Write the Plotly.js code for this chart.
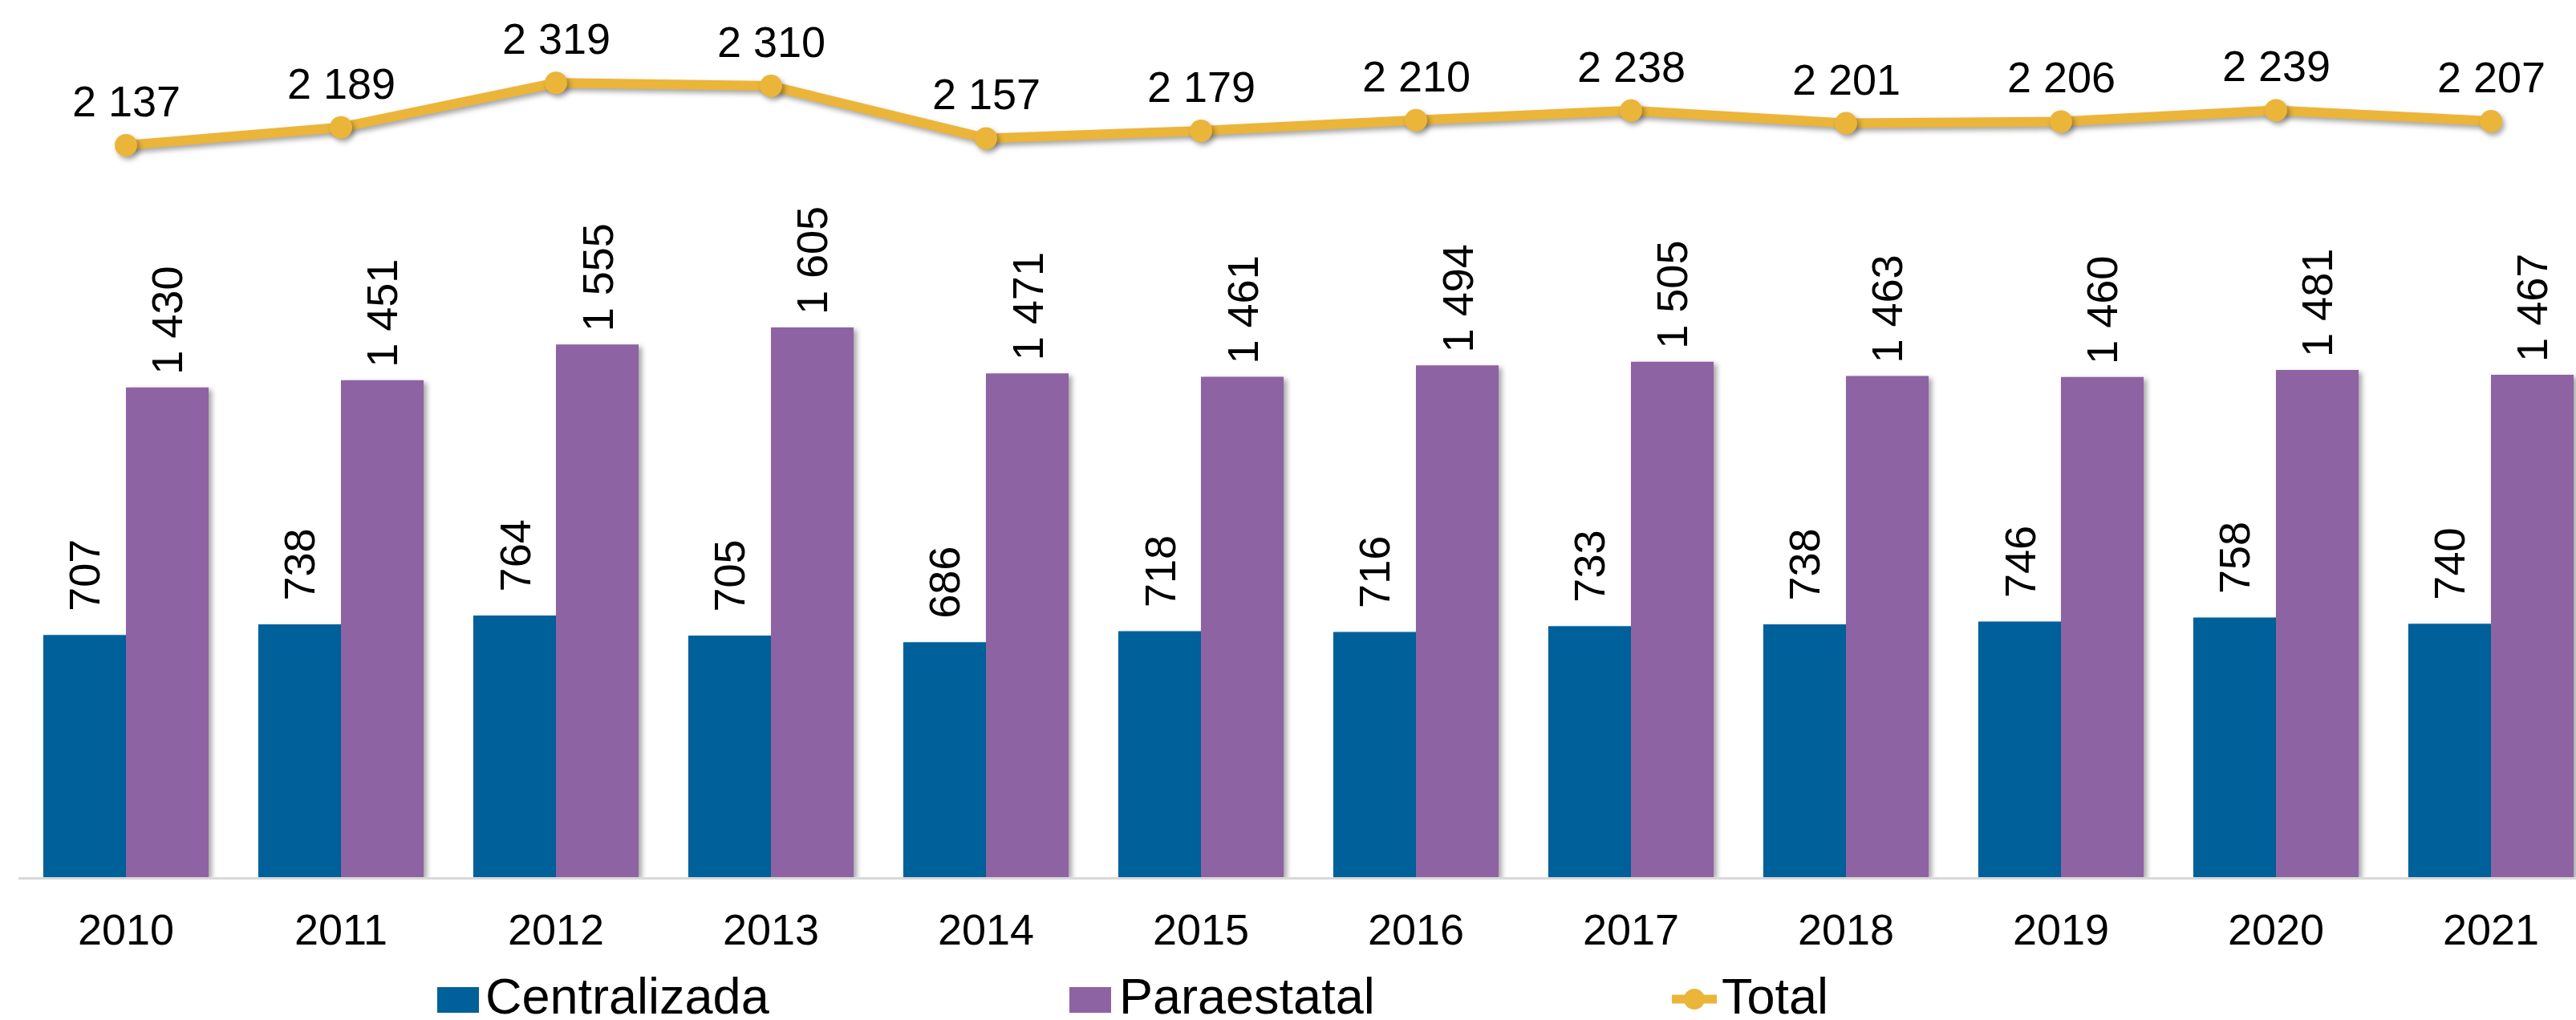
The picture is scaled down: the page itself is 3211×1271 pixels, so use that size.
<!DOCTYPE html>
<html>
<head>
<meta charset="utf-8">
<script src="https://cdn.plot.ly/plotly-3.0.1.min.js"></script>
<style>
  html, body { margin: 0; padding: 0; background: #ffffff; }
  #chart { width: 3211px; height: 1271px; }
  .barlayer .point path { filter: drop-shadow(4px 3px 3px rgba(0,0,0,0.35)); }
  .scatterlayer .js-line, .scatterlayer .point { filter: drop-shadow(3px 4px 3px rgba(0,0,0,0.35)); }
</style>
</head>
<body>
<div id="chart"></div>
<script>
// ---- data ----
const years = ['2010','2011','2012','2013','2014','2015','2016','2017','2018','2019','2020','2021'];
const centralizada = [707, 738, 764, 705, 686, 718, 716, 733, 738, 746, 758, 740];
const paraestatal  = [1430, 1451, 1555, 1605, 1471, 1461, 1494, 1505, 1463, 1460, 1481, 1467];
const total        = [2137, 2189, 2319, 2310, 2157, 2179, 2210, 2238, 2201, 2206, 2239, 2207];
const seriesNames  = ['Centralizada', 'Paraestatal', 'Total'];

// ---- style ----
const COL_CENT = '#00619A';
const COL_PARA = '#8E63A3';
const COL_TOT  = '#EBB53A';
const FONT = 'Liberation Sans, Arial, sans-serif';

const W = 3211, H = 1271;
const ML = 23, MR = 0, MT = 26, MB = 178;
const PW = W - ML - MR, PH = H - MT - MB;
const CAT_PX = 268;
const XMAX = -0.5 + PW / CAT_PX;
const BARGAP = 0.231;
const HALF_BAR = (1 - BARGAP) * CAT_PX / 4;

function fmt(v) {
  return String(v).replace(/\B(?=(\d{3})+(?!\d))/g, ' ');
}
function px2paperX(px) { return (px - ML) / PW; }
function px2paperY(py) { return (H - MB - py) / PH; }

const traces = [
  {
    type: 'bar', name: seriesNames[0], x: years, y: centralizada,
    marker: { color: COL_CENT, line: { width: 0 } },
    showlegend: false, hoverinfo: 'x+y'
  },
  {
    type: 'bar', name: seriesNames[1], x: years, y: paraestatal,
    marker: { color: COL_PARA, line: { width: 0 } },
    showlegend: false, hoverinfo: 'x+y'
  },
  {
    type: 'scatter', mode: 'lines+markers', name: seriesNames[2], x: years, y: total,
    line: { color: COL_TOT, width: 12 },
    marker: { color: COL_TOT, size: 28 },
    showlegend: false, hoverinfo: 'x+y', cliponaxis: false
  }
];

// data labels: category axis annotations take the category's serial index
const annotations = [];
years.forEach((yr, i) => {
  annotations.push({
    x: i, y: centralizada[i], xref: 'x', yref: 'y', text: fmt(centralizada[i]),
    showarrow: false, textangle: -90, xanchor: 'center', yanchor: 'bottom',
    xshift: -HALF_BAR, yshift: 28, font: { family: FONT, size: 54, color: '#000' }
  });
  annotations.push({
    x: i, y: paraestatal[i], xref: 'x', yref: 'y', text: fmt(paraestatal[i]),
    showarrow: false, textangle: -90, xanchor: 'center', yanchor: 'bottom',
    xshift: HALF_BAR, yshift: 14, font: { family: FONT, size: 54, color: '#000' }
  });
  annotations.push({
    x: i, y: total[i], xref: 'x', yref: 'y', text: fmt(total[i]),
    showarrow: false, xanchor: 'center', yanchor: 'bottom',
    yshift: 23, font: { family: FONT, size: 54, color: '#000' }
  });
});

// ---- custom legend ----
const shapes = [];
const legendItems = [
  { name: seriesNames[0], kind: 'box', color: COL_CENT, x0: 545, x1: 597, tx: 603 },
  { name: seriesNames[1], kind: 'box', color: COL_PARA, x0: 1333, x1: 1385, tx: 1393 },
  { name: seriesNames[2], kind: 'line', color: COL_TOT, x0: 2084, x1: 2140, tx: 2144 }
];
const LEG_Y = 1245;
legendItems.forEach(it => {
  if (it.kind === 'box') {
    shapes.push({
      type: 'rect', xref: 'paper', yref: 'paper',
      x0: px2paperX(it.x0), x1: px2paperX(it.x1),
      y0: px2paperY(1262), y1: px2paperY(1230),
      fillcolor: it.color, line: { width: 0 }
    });
  } else {
    shapes.push({
      type: 'line', xref: 'paper', yref: 'paper',
      x0: px2paperX(it.x0), x1: px2paperX(it.x1),
      y0: px2paperY(LEG_Y), y1: px2paperY(LEG_Y),
      line: { color: it.color, width: 11 }
    });
    const cx = (it.x0 + it.x1) / 2;
    shapes.push({
      type: 'circle', xref: 'paper', yref: 'paper',
      x0: px2paperX(cx - 13), x1: px2paperX(cx + 13),
      y0: px2paperY(LEG_Y + 13), y1: px2paperY(LEG_Y - 13),
      fillcolor: it.color, line: { width: 0 }
    });
  }
  annotations.push({
    xref: 'paper', yref: 'paper', x: px2paperX(it.tx), y: px2paperY(1241),
    xanchor: 'left', yanchor: 'middle', showarrow: false, text: it.name,
    font: { family: FONT, size: 63, color: '#000' }
  });
});

const layout = {
  width: W, height: H,
  margin: { l: ML, r: MR, t: MT, b: MB, pad: 0 },
  paper_bgcolor: '#ffffff', plot_bgcolor: '#ffffff',
  barmode: 'group', bargap: BARGAP, bargroupgap: 0,
  showlegend: false,
  font: { family: FONT, color: '#000' },
  xaxis: {
    type: 'category', range: [-0.5, XMAX],
    showline: true, linecolor: '#D9D9D9', linewidth: 3,
    ticks: '', showgrid: false, zeroline: false,
    tickfont: { family: FONT, size: 54, color: '#000' },
    ticklabelstandoff: 16
  },
  yaxis: {
    range: [0, 2500], visible: false, showgrid: false, zeroline: false
  },
  annotations: annotations,
  shapes: shapes
};

Plotly.newPlot('chart', traces, layout, { displayModeBar: false, staticPlot: true });
</script>
</body>
</html>
